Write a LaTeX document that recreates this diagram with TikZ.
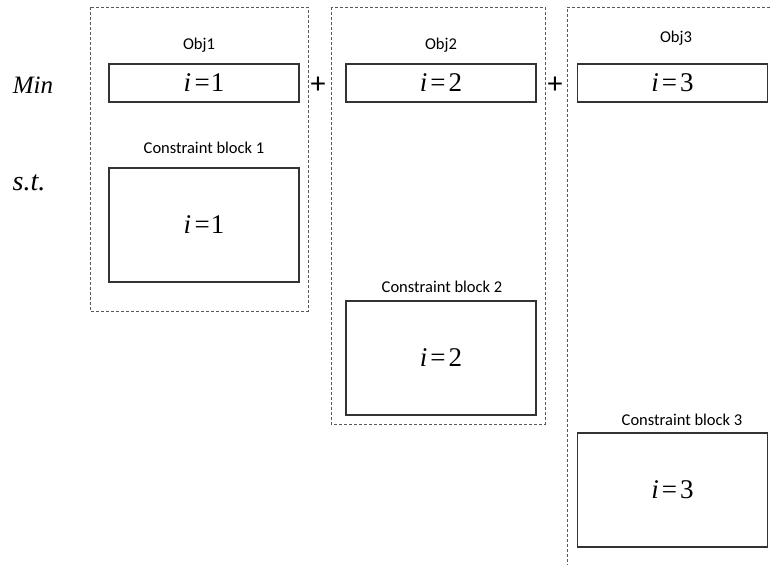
\documentclass[tikz,border=0pt]{standalone}
\usepackage{fontspec}
\setmainfont{Liberation Serif}
\newfontfamily\labfont{Carlito}
\newcommand{\eqone}{\textit{i}\hspace{3.5pt}=\hspace{1pt}1}
\newcommand{\eqi}[1]{\textit{i}\hspace{3pt}=\hspace{3pt}#1}
\begin{document}
\begin{tikzpicture}[x=1pt,y=-1pt,
  group/.style={draw=black!65, line width=0.9pt, dash pattern=on 3pt off 2pt},
  box/.style={draw=black!80, line width=1.1pt, minimum width=190pt, inner sep=0pt, font=\fontsize{27}{30}\selectfont},
  objbox/.style={box, minimum height=38pt},
  conbox/.style={box, minimum height=114pt},
  lab/.style={font=\labfont\fontsize{16.5}{18}\selectfont, inner sep=0pt},
  rowlab/.style={font=\itshape\fontsize{25}{28}\selectfont, inner sep=0pt},
  plus/.style={font=\labfont\fontsize{30}{32}\selectfont, inner sep=0pt}]
\useasboundingbox (0,0) rectangle (772,565);
\begin{scope}
\clip (0,0) rectangle (772,565);
% dashed groups
\draw[group] (90,7) rectangle (308,311);
\draw[group] (331,7) rectangle (545,424);
\draw[group] (790,7) -- (567,7) -- (567,580);
\end{scope}
% row labels
\node[rowlab] (min) at (33,85) {Min};
\node[rowlab, font=\itshape\fontsize{28}{30}\selectfont] (st) at (29,183) {s.t.};
% objective boxes
\node[objbox] (o1) at (204,83) {\eqone};
\node[objbox] (o2) at (441,83) {\eqi{2}};
\node[objbox] (o3) at (672.5,83) {\eqi{3}};
\node[lab] (l1) at (199,45) {Obj1};
\node[lab] (l2) at (441,45) {Obj2};
\node[lab] (l3) at (676,38) {Obj3};
\node[plus] (p1) at (318,85) {+};
\node[plus] (p2) at (555,85) {+};
% constraint blocks
\node[conbox] (c1) at (204,225) {\eqone};
\node[conbox] (c2) at (441,358) {\eqi{2}};
\node[conbox] (c3) at (672.5,490) {\eqi{3}};
\node[lab] (cl1) at (204,148) {Constraint block 1};
\node[lab] (cl2) at (442,287) {Constraint block 2};
\node[lab] (cl3) at (682,420) {Constraint block 3};
\end{tikzpicture}
\end{document}
